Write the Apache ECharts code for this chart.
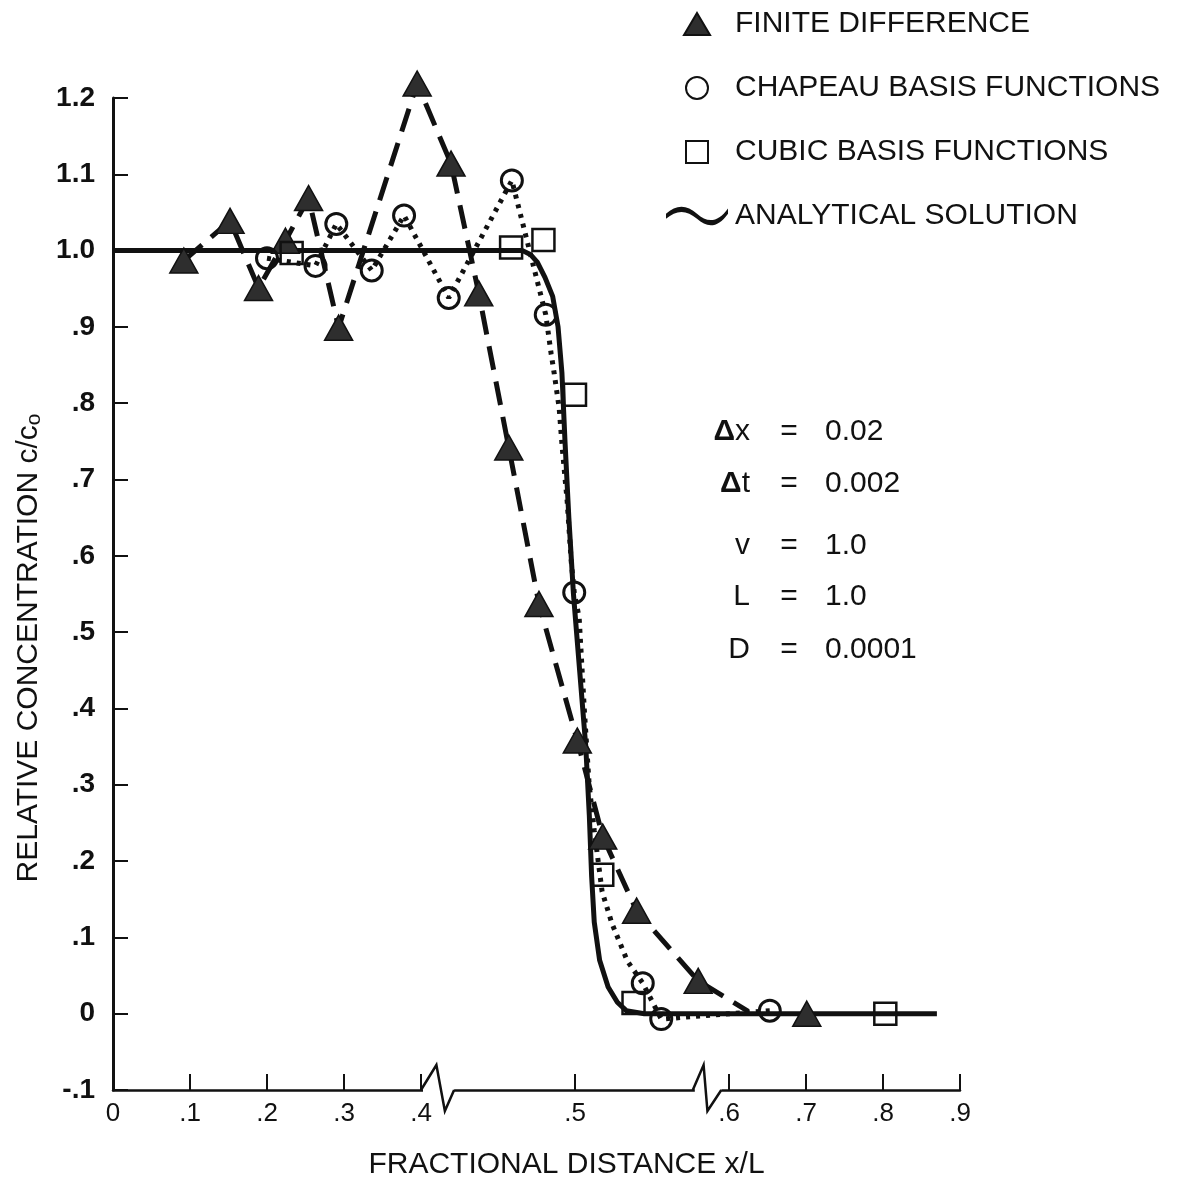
<!DOCTYPE html>
<html>
<head>
<meta charset="utf-8">
<script src="https://cdn.jsdelivr.net/npm/echarts@6/dist/echarts.min.js"></script>
<style>
  html, body { margin: 0; padding: 0; background: #fff; }
  #chart { width: 1190px; height: 1177px; }
</style>
</head>
<body>
<div id="chart"></div>
<script>
// x axis is broken: .4 - .6 is drawn at twice the scale of the rest
const xTicks = [0, 0.1, 0.2, 0.3, 0.4, 0.5, 0.6, 0.7, 0.8, 0.9];
const xTickLabels = ['0', '.1', '.2', '.3', '.4', '.5', '.6', '.7', '.8', '.9'];

// finite difference - triangles
const fdX = [0.092, 0.152, 0.189, 0.224, 0.254, 0.293, 0.395, 0.4195, 0.4375, 0.457, 0.4766, 0.5015, 0.518, 0.54, 0.58, 0.701];
const fdY = [0.987, 1.039, 0.951, 1.013, 1.069, 0.899, 1.219, 1.114, 0.944, 0.742, 0.537, 0.358, 0.232, 0.135, 0.043, 0.0];
// dashed line through the triangles
const fdLineX = [0.092, 0.152, 0.189, 0.224, 0.254, 0.293, 0.395, 0.4195, 0.4375, 0.457, 0.4766, 0.5015, 0.518, 0.54, 0.58, 0.625];
const fdLineY = [0.987, 1.039, 0.951, 1.013, 1.069, 0.899, 1.219, 1.114, 0.944, 0.742, 0.537, 0.358, 0.232, 0.135, 0.043, 0.003];

// chapeau basis functions - circles
const chX = [0.2, 0.263, 0.29, 0.336, 0.378, 0.418, 0.459, 0.481, 0.4995, 0.544, 0.556, 0.653];
const chY = [0.99, 0.98, 1.035, 0.974, 1.046, 0.938, 1.092, 0.916, 0.552, 0.04, -0.007, 0.004];
// dotted line
const chLineX = [0.2, 0.263, 0.29, 0.336, 0.378, 0.418, 0.459, 0.481, 0.4845, 0.4865, 0.4897, 0.4917, 0.4949, 0.4975, 0.4995,
  0.5027, 0.506, 0.5092, 0.5125, 0.5176, 0.524, 0.534, 0.544, 0.556, 0.653];
const chLineY = [0.99, 0.98, 1.035, 0.974, 1.046, 0.938, 1.092, 0.916, 0.865, 0.839, 0.794, 0.742, 0.672, 0.594, 0.552,
  0.519, 0.40, 0.30, 0.24, 0.16, 0.118, 0.069, 0.04, -0.007, 0.004];

// cubic basis functions - squares
const cuX = [0.232, 0.4585, 0.4795, 0.5, 0.5177, 0.538, 0.803];
const cuY = [0.997, 1.004, 1.014, 0.811, 0.182, 0.014, 0.0];

// analytical solution
const anX = [0, 0.466, 0.471, 0.4755, 0.4805, 0.4855, 0.489, 0.4915, 0.4935, 0.496, 0.499, 0.503, 0.507, 0.5093,
  0.5108, 0.5125, 0.516, 0.5215, 0.5275, 0.5333, 0.545, 0.87];
const anY = [1.0, 1.0, 0.995, 0.985, 0.965, 0.94, 0.90, 0.84, 0.75, 0.65, 0.55, 0.45, 0.35, 0.26,
  0.18, 0.12, 0.07, 0.035, 0.015, 0.004, 0.0, 0.0];

const paramNames = ['{d|Δ}x', '{d|Δ}t', 'v', 'L', 'D'];
const paramValues = ['0.02', '0.002', '1.0', '1.0', '0.0001'];

const FONT = '"Liberation Sans", Arial, Helvetica, sans-serif';
const INK = '#111';

function toAxis(x) {
  if (x <= 0.4) return x * 10;
  if (x <= 0.6) return 4 + (x - 0.4) * 20;
  return 8 + (x - 0.6) * 10;
}
const pts = (xs, ys) => xs.map((x, i) => [toAxis(x), ys[i]]);
const xTickPos = xTicks.map(toAxis);

const option = {
  animation: false,
  backgroundColor: '#fff',
  grid: { left: 113, right: 230, top: 98, bottom: 87, outerBoundsMode: 'none' },
  legend: {
    orient: 'vertical',
    left: 666,
    top: 9,
    padding: 0,
    itemWidth: 62,
    itemHeight: 22,
    itemGap: 34,
    selectedMode: false,
    symbolKeepAspect: true,
    textStyle: { fontSize: 30, color: INK, fontFamily: FONT, padding: [0, 0, 0, 2] },
    data: [
      { name: 'FINITE DIFFERENCE', icon: 'path://M13,0 L26,22 L0,22 Z' },
      { name: 'CHAPEAU BASIS FUNCTIONS', icon: 'path://M9.5,0 A9.5,9.5 0 1,1 9.49,0 Z' },
      { name: 'CUBIC BASIS FUNCTIONS', icon: 'path://M0,0 L20,0 L20,20 L0,20 Z' },
      {
        name: 'ANALYTICAL SOLUTION',
        icon: 'path://M0,10 C10,1 20,1 30,10 C40,19 50,19 60,5 L60,10 C50,24 40,24 30,15 C20,6 10,6 0,15 Z',
      },
    ],
  },
  xAxis: {
    type: 'value',
    min: 0,
    max: 11,
    name: 'FRACTIONAL DISTANCE x/L',
    nameLocation: 'middle',
    nameGap: 60,
    nameTextStyle: { fontSize: 30, color: INK, fontFamily: FONT, padding: [0, 0, 0, 60] },
    axisLine: { onZero: false, lineStyle: { color: INK, width: 2.5 } },
    axisTick: { inside: true, length: 16, customValues: xTickPos, lineStyle: { color: INK, width: 2 } },
    axisLabel: {
      customValues: xTickPos,
      margin: 11,
      fontSize: 26,
      color: INK,
      fontFamily: FONT,
      formatter(v) {
        const i = xTickPos.findIndex((p) => Math.abs(p - v) < 1e-6);
        return i < 0 ? '' : xTickLabels[i];
      },
    },
    splitLine: { show: false },
  },
  yAxis: {
    type: 'value',
    min: -0.1,
    max: 1.2,
    interval: 0.1,
    name: 'RELATIVE CONCENTRATION c/c{sub|o}',
    nameLocation: 'middle',
    nameGap: 68,
    nameTextStyle: {
      fontSize: 30,
      color: INK,
      fontFamily: FONT,
      padding: [0, 108, 0, 0],
      rich: { sub: { fontSize: 21, fontFamily: FONT, color: INK, padding: [12, 0, 0, 0], verticalAlign: 'bottom' } },
    },
    axisLine: { onZero: false, lineStyle: { color: INK, width: 3 } },
    axisTick: { inside: true, length: 15, lineStyle: { color: INK, width: 2 } },
    axisLabel: {
      margin: 18,
      fontSize: 28,
      fontWeight: 'bold',
      color: INK,
      fontFamily: FONT,
      formatter(v) {
        const n = Math.round(v * 10);
        if (n === 0) return '0';
        if (n < 0) return '-.1';
        if (n >= 10) return (n / 10).toFixed(1);
        return '.' + n;
      },
    },
    splitLine: { show: false },
  },
  series: [
    {
      name: 'ANALYTICAL SOLUTION',
      type: 'line',
      data: pts(anX, anY),
      symbol: 'none',
      clip: false,
      lineStyle: { color: INK, width: 5, join: 'round' },
      itemStyle: { color: INK },
      z: 3,
    },
    {
      name: 'fd line',
      type: 'line',
      data: pts(fdLineX, fdLineY),
      symbol: 'none',
      clip: false,
      lineStyle: { color: INK, width: 5, type: [24, 12] },
      z: 2,
    },
    {
      name: 'chapeau line',
      type: 'line',
      data: pts(chLineX, chLineY),
      symbol: 'none',
      clip: false,
      lineStyle: { color: INK, width: 5, type: [4, 6] },
      z: 2,
    },
    {
      name: 'FINITE DIFFERENCE',
      type: 'scatter',
      data: pts(fdX, fdY),
      symbol: 'triangle',
      symbolSize: [28, 25],
      clip: false,
      itemStyle: { color: '#2e2e2e', borderColor: INK, borderWidth: 1.5, opacity: 1 },
      z: 5,
    },
    {
      name: 'CHAPEAU BASIS FUNCTIONS',
      type: 'scatter',
      data: pts(chX, chY),
      symbol: 'circle',
      symbolSize: 21,
      clip: false,
      itemStyle: { color: 'rgba(255,255,255,0)', borderColor: INK, borderWidth: 3, opacity: 1 },
      z: 5,
    },
    {
      name: 'CUBIC BASIS FUNCTIONS',
      type: 'scatter',
      data: pts(cuX, cuY),
      symbol: 'rect',
      symbolSize: 22,
      clip: false,
      itemStyle: { color: 'rgba(255,255,255,0)', borderColor: INK, borderWidth: 2.5, opacity: 1 },
      z: 5,
    },
  ],
};

const chart = echarts.init(document.getElementById('chart'));
chart.setOption(option);

// break marks on the x axis and the parameter block
const graphics = [];
function breakMark(us) {
  const p = us.map((u) => chart.convertToPixel({ gridIndex: 0 }, [u, -0.1]));
  const y = p[0][1];
  graphics.push({
    type: 'rect',
    shape: { x: p[0][0] + 2, y: y - 4, width: p[3][0] - p[0][0] - 2, height: 8 },
    style: { fill: '#fff' },
    z: 10,
  });
  graphics.push({
    type: 'polyline',
    shape: { points: [[p[0][0], y], [p[1][0], y - 25], [p[2][0], y + 21], [p[3][0], y]] },
    style: { stroke: INK, lineWidth: 2.5, fill: null },
    z: 11,
  });
}
breakMark([4.0, 4.2, 4.31, 4.43]);
breakMark([7.53, 7.67, 7.72, 7.9]);

const rowY = [432, 484, 546, 597, 650];
paramNames.forEach((name, i) => {
  graphics.push({
    type: 'text', x: 750, y: rowY[i], z: 10,
    style: {
      text: name, align: 'right', verticalAlign: 'middle', fontSize: 30, fill: INK, fontFamily: FONT,
      rich: { d: { fontSize: 30, fontWeight: 'bold', fill: INK, fontFamily: FONT } },
    },
  });
  graphics.push({
    type: 'text', x: 789, y: rowY[i], z: 10,
    style: { text: '=', align: 'center', verticalAlign: 'middle', fontSize: 30, fill: INK, fontFamily: FONT },
  });
  graphics.push({
    type: 'text', x: 825, y: rowY[i], z: 10,
    style: { text: paramValues[i], align: 'left', verticalAlign: 'middle', fontSize: 30, fill: INK, fontFamily: FONT },
  });
});
chart.setOption({ graphic: graphics });
</script>
</body>
</html>
